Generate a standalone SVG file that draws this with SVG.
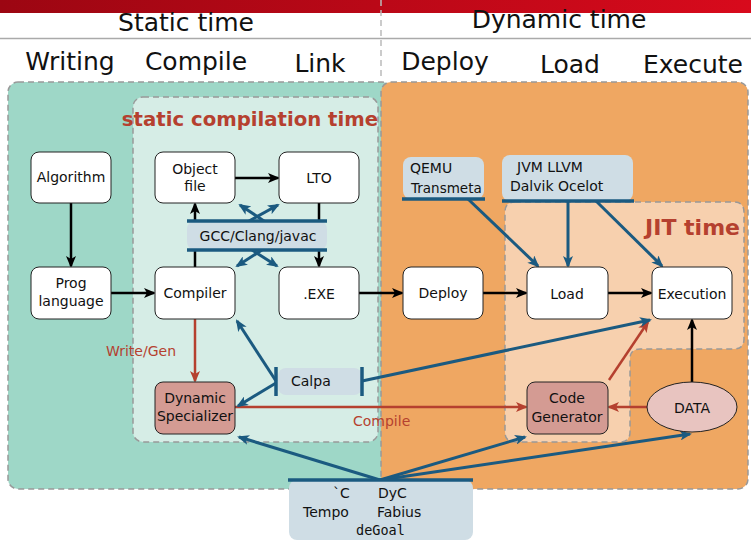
<svg xmlns="http://www.w3.org/2000/svg" width="751" height="542" viewBox="0 0 751 542">
<defs>
<linearGradient id="bar" x1="0" y1="0" x2="1" y2="0">
<stop offset="0" stop-color="#9c0612"/>
<stop offset="1" stop-color="#d80a1c"/>
</linearGradient>
<marker id="ak" viewBox="0 0 12 10" refX="10" refY="5" markerWidth="12" markerHeight="10" markerUnits="userSpaceOnUse" orient="auto"><path d="M0,0 L12,5 L0,10 L3,5 Z" fill="#000"/></marker>
<marker id="ab" viewBox="0 0 12 10" refX="10" refY="5" markerWidth="12" markerHeight="10" markerUnits="userSpaceOnUse" orient="auto"><path d="M0,0 L12,5 L0,10 L3,5 Z" fill="#1b5a80"/></marker>
<marker id="ar" viewBox="0 0 12 10" refX="10" refY="5" markerWidth="12" markerHeight="10" markerUnits="userSpaceOnUse" orient="auto"><path d="M0,0 L12,5 L0,10 L3,5 Z" fill="#b5402f"/></marker>
</defs>
<style>
text{font-family:"DejaVu Sans","Liberation Sans",sans-serif;fill:#111}
.head{font-size:25px}
.nt{font-size:14px;text-anchor:middle}
.node{fill:#fff;stroke:#222;stroke-width:1}
.spec{fill:#d49b93;stroke:#222;stroke-width:1}
.region{stroke:#999;stroke-width:1.5;stroke-dasharray:6 4}
.tool{fill:#cfdde5}
.tbar{stroke:#1b5a80;stroke-width:3.5;fill:none}
.k{stroke:#000;stroke-width:2.5;fill:none;marker-end:url(#ak)}
.b{stroke:#1b5a80;stroke-width:3;fill:none;marker-end:url(#ab)}
.r{stroke:#b5402f;stroke-width:2.5;fill:none;marker-end:url(#ar)}
.title{font-weight:bold;fill:#b5402f}
.lbl{font-size:14px;fill:#b5412f}
</style>
<rect x="0" y="0" width="751" height="542" fill="#fff"/>
<rect x="0" y="0" width="751" height="13" fill="url(#bar)"/>
<line x1="0" y1="38.5" x2="751" y2="38.5" stroke="#aaa" stroke-width="1.5"/>
<line x1="381" y1="0" x2="381" y2="80" stroke="#bbb" stroke-width="1.5" stroke-dasharray="6 4"/>
<text class="head" x="186" y="31" text-anchor="middle">Static time</text>
<text class="head" x="559" y="28" text-anchor="middle">Dynamic time</text>
<text class="head" x="70" y="70" text-anchor="middle">Writing</text>
<text class="head" x="196" y="70" text-anchor="middle">Compile</text>
<text class="head" x="320" y="72" text-anchor="middle">Link</text>
<text class="head" x="445" y="70" text-anchor="middle">Deploy</text>
<text class="head" x="570" y="73" text-anchor="middle">Load</text>
<text class="head" x="693" y="73" text-anchor="middle">Execute</text>

<g id="regions">
<rect class="region" x="8" y="82" width="384" height="407" rx="10" fill="#9ed7c7"/>
<rect class="region" x="381" y="82" width="367" height="407" rx="10" fill="#efa762"/>
<rect class="region" x="133" y="97" width="245" height="345" rx="10" fill="#d6ede6"/>
<path class="region" d="M515,202 H734 Q744,202 744,212 V339 Q744,349 734,349 H640 Q630,349 630,359 V432 Q630,442 620,442 H515 Q505,442 505,432 V212 Q505,202 515,202 Z" fill="#f7d0ae"/>
<text class="title" x="250" y="126" font-size="19.7" text-anchor="middle">static compilation time</text>
<text class="title" x="740" y="235" font-size="22" text-anchor="end">JIT time</text>
</g>

<g id="connectors">
<path class="k" d="M71,203 V266"/>
<path class="k" d="M111,293 H154"/>
<path class="k" d="M235,178 H278"/>
<path class="k" d="M195,267 V204"/>
<path class="k" d="M319,203 V266"/>
<path class="k" d="M359,293 H402"/>
<path class="k" d="M483,293 H526"/>
<path class="k" d="M608,293 H651"/>
<path class="k" d="M692,382 V320"/>
<path class="r" d="M195,319 V381"/>
<path class="r" d="M235,407 H526"/>
<path class="r" d="M647,407 H609"/>
<path class="r" d="M609,380 L648,322"/>
<path class="b" d="M264,221 L240,205"/>
<path class="b" d="M249,221 L278,205"/>
<path class="b" d="M262,250 L237,266"/>
<path class="b" d="M252,250 L277,266"/>
<path class="b" d="M276,381 L237,321"/>
<path class="b" d="M276,383 L238,406"/>
<path class="b" d="M362,381 L650,320"/>
<path class="b" d="M468,199 L538,266"/>
<path class="b" d="M568,200 V266"/>
<path class="b" d="M595,200 L662,266"/>
<path class="b" d="M380,480 L239,437"/>
<path class="b" d="M380,480 L525,437"/>
<path class="b" d="M380,480 L690,434"/>
<text class="lbl" x="106" y="356">Write/Gen</text>
<text class="lbl" x="353" y="426">Compile</text>
</g>

<g id="algorithm"><rect class="node" x="31" y="152" width="80" height="51" rx="8"/><text class="nt" x="71" y="182">Algorithm</text></g>
<g id="objectfile"><rect class="node" x="155" y="152" width="80" height="51" rx="8"/><text class="nt" x="195" y="174">Object</text><text class="nt" x="195" y="191">file</text></g>
<g id="lto"><rect class="node" x="279" y="152" width="80" height="51" rx="8"/><text class="nt" x="319" y="183">LTO</text></g>
<g id="proglanguage"><rect class="node" x="31" y="267" width="80" height="52" rx="8"/><text class="nt" x="71" y="288">Prog</text><text class="nt" x="71" y="306">language</text></g>
<g id="compiler"><rect class="node" x="155" y="267" width="80" height="52" rx="8"/><text class="nt" x="195" y="298">Compiler</text></g>
<g id="exe"><rect class="node" x="279" y="267" width="80" height="52" rx="8"/><text class="nt" x="319" y="299" font-size="15">.EXE</text></g>
<g id="deploy"><rect class="node" x="403" y="267" width="80" height="52" rx="8"/><text class="nt" x="443" y="298">Deploy</text></g>
<g id="load"><rect class="node" x="527" y="267" width="81" height="52" rx="8"/><text class="nt" x="567" y="299">Load</text></g>
<g id="execution"><rect class="node" x="652" y="267" width="80" height="52" rx="8"/><text class="nt" x="692" y="299">Execution</text></g>
<g id="dynspec"><rect class="spec" x="155" y="382" width="80" height="52" rx="8"/><text class="nt" x="195" y="403">Dynamic</text><text class="nt" x="195" y="421">Specializer</text></g>
<g id="codegen"><rect class="spec" x="527" y="382" width="81" height="52" rx="8"/><text class="nt" x="567" y="403">Code</text><text class="nt" x="567" y="422">Generator</text></g>
<g id="data"><ellipse cx="692" cy="407" rx="45" ry="25" fill="#e8c4c0" stroke="#222" stroke-width="1"/><text class="nt" x="692" y="413">DATA</text></g>

<g id="gcc"><rect class="tool" x="187" y="221" width="140" height="29" rx="8"/><line class="tbar" x1="187" y1="221" x2="327" y2="221"/><line class="tbar" x1="187" y1="250" x2="327" y2="250"/><text class="nt" x="258" y="241">GCC/Clang/javac</text></g>
<g id="qemu"><rect class="tool" x="403" y="157" width="81" height="42" rx="8"/><line class="tbar" x1="402" y1="199" x2="485" y2="199"/><text x="410" y="173" font-size="14">QEMU</text><text x="411" y="193" font-size="13.5">Transmeta</text></g>
<g id="jvm"><rect class="tool" x="502" y="155" width="131" height="46" rx="8"/><line class="tbar" x1="502" y1="201" x2="634" y2="201"/><text x="517" y="172" font-size="14">JVM LLVM</text><text x="510" y="191" font-size="14">Dalvik Ocelot</text></g>
<g id="calpa"><rect class="tool" x="278" y="368" width="84" height="27" rx="8"/><line class="tbar" x1="276" y1="367" x2="276" y2="396"/><line class="tbar" x1="362" y1="367" x2="362" y2="396"/><text x="291" y="386" font-size="14">Calpa</text></g>
<g id="dyc"><rect class="tool" x="289" y="480" width="184" height="60" rx="8"/><line class="tbar" x1="288" y1="480" x2="473" y2="480"/><text x="333" y="498" font-size="14">`C</text><text x="378" y="498" font-size="14">DyC</text><text x="303" y="517" font-size="14">Tempo</text><text x="377" y="517" font-size="14">Fabius</text><text x="356" y="535" font-size="13.5" style="font-family:'DejaVu Sans Mono','Liberation Mono',monospace">deGoal</text></g>
</svg>
